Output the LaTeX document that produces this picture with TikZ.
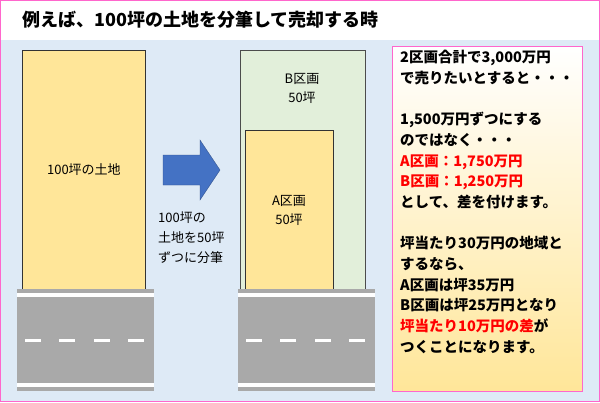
\documentclass[tikz,border=0pt]{standalone}
\usepackage{fontspec}
\setmainfont{Noto Sans CJK JP}
\definecolor{bgblue}{HTML}{DEEAF6}
\definecolor{lotyel}{HTML}{FFE699}
\definecolor{lotgrn}{HTML}{E2EFDA}
\definecolor{road}{HTML}{A9A9A9}
\definecolor{arrowblue}{HTML}{4472C4}
\definecolor{pinkb}{HTML}{FF66CC}
\tikzset{
 lot/.style={draw=black!80,line width=0.8pt},
 lbl/.style={font=\fontsize{13}{19}\selectfont,align=center},
 side/.style={font=\bfseries\fontsize{14.5}{20.7}\selectfont,align=left,anchor=north west,inner sep=0pt},
}
\newcommand{\roadat}[2]{%
 \fill[road] (#1,289) rectangle ++(137,102);
 \fill[white] (#1,293) rectangle ++(137,3.5);
 \fill[white] (#1,383) rectangle ++(137,3.5);
 \foreach \d in {8,42,77,111}{\fill[white] (#1+\d,338.5) rectangle ++(16,3);}
}
\begin{document}
\begin{tikzpicture}[x=1pt,y=-1pt]
\useasboundingbox (0,0) rectangle (600,402);
\fill[bgblue] (0,0) rectangle (600,402);
\fill[white] (0,0) rectangle (600,40);
\draw[pinkb,line width=1pt] (0.5,0.5) rectangle (599.5,401.5);
\node[anchor=west,font=\bfseries\fontsize{18}{22}\selectfont] (title) at (19,20) {例えば、100坪の土地を分筆して売却する時};
% left
\node[lot,fill=lotyel,minimum width=123,minimum height=239,inner sep=0,anchor=north west] (big) at (22,50) {};
\node[lbl] (bigt) at (big.center) {100坪の土地};
\roadat{17}{0}
% arrow
\coordinate (arr) at (163,155);
\fill[arrowblue,draw=arrowblue!70!black] (163,155) -- (200,155) -- (200,140) -- (220,170) -- (200,200) -- (200,185) -- (163,185) -- cycle;
\node[anchor=north west,align=left,font=\fontsize{13}{20}\selectfont,inner sep=0] (artx) at (158,212) {100坪の\\土地を50坪\\ずつに分筆};
% right
\node[lot,draw=black!70,fill=lotgrn,minimum width=125,minimum height=240,inner sep=0,anchor=north west] (lb) at (240,50) {};
\node[lot,fill=lotyel,minimum width=88,minimum height=160,inner sep=0,anchor=north west] (la) at (245,130) {};
\node[lbl] (lbt) at (302,88) {B区画\\50坪};
\node[lbl] (lat) at (289,210) {A区画\\50坪};
\roadat{238}{0}
% side box
\shade[top color=white,bottom color=lotyel] (392,46) rectangle (582,391);
\draw[pinkb,line width=0.8pt] (392,46) rectangle (582,391);
\node[side] (st) at (400,50) {2区画合計で3,000万円\\で売りたいとすると・・・\\[20.7pt]
1,500万円ずつにする\\のではなく・・・\\
\textcolor{red}{A区画：1,750万円}\\
\textcolor{red}{B区画：1,250万円}\\
として、差を付けます。\\[20.7pt]
坪当たり30万円の地域と\\するなら、\\
A区画は坪35万円\\
B区画は坪25万円となり\\
\textcolor{red}{坪当たり10万円の差}が\\
つくことになります。};
\end{tikzpicture}
\end{document}
